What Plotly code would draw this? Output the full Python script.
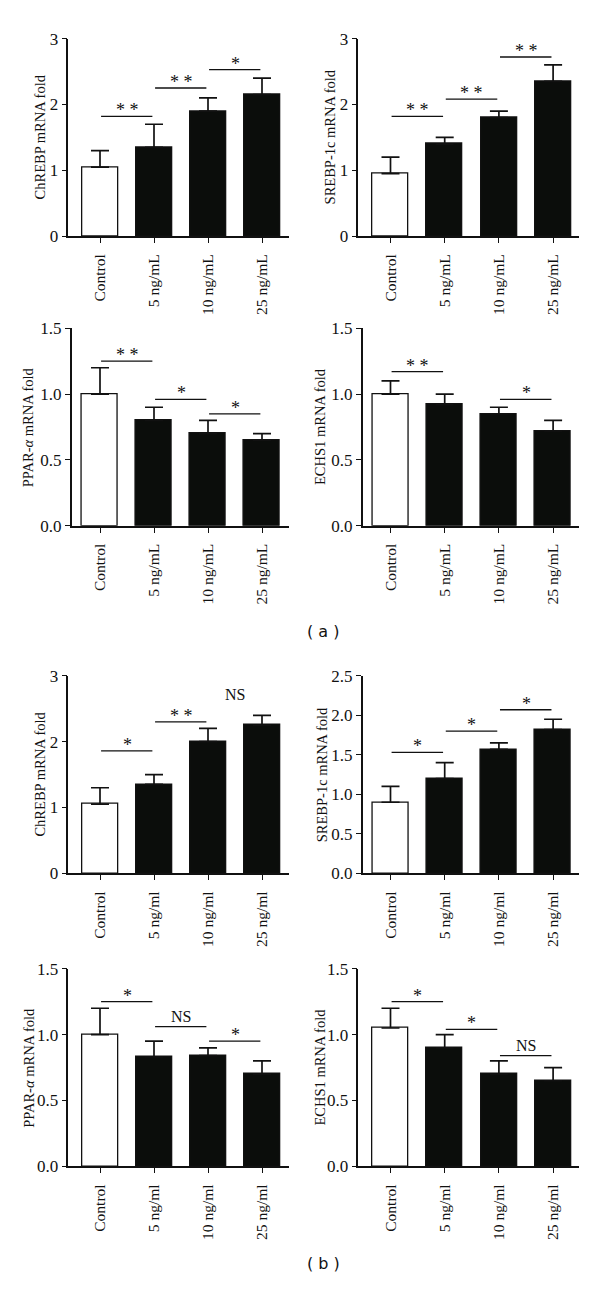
import plotly.graph_objects as go

# ---------------- data ----------------
categories_a = ["Control", "5 ng/mL", "10 ng/mL", "25 ng/mL"]
categories_b = ["Control", "5 ng/ml", "10 ng/ml", "25 ng/ml"]

chrebp_a_mean = [1.05, 1.35, 1.90, 2.15]
chrebp_a_sd = [0.25, 0.35, 0.20, 0.25]
srebp_a_mean = [0.95, 1.40, 1.80, 2.35]
srebp_a_sd = [0.25, 0.10, 0.10, 0.25]
ppar_a_mean = [1.00, 0.80, 0.70, 0.65]
ppar_a_sd = [0.20, 0.10, 0.10, 0.05]
echs1_a_mean = [1.00, 0.92, 0.85, 0.72]
echs1_a_sd = [0.10, 0.08, 0.05, 0.08]

chrebp_b_mean = [1.05, 1.35, 2.00, 2.25]
chrebp_b_sd = [0.25, 0.15, 0.20, 0.15]
srebp_b_mean = [0.90, 1.20, 1.57, 1.82]
srebp_b_sd = [0.20, 0.20, 0.08, 0.13]
ppar_b_mean = [1.00, 0.83, 0.84, 0.70]
ppar_b_sd = [0.20, 0.12, 0.06, 0.10]
echs1_b_mean = [1.05, 0.90, 0.70, 0.65]
echs1_b_sd = [0.15, 0.10, 0.10, 0.10]

# significance marks: (first group index, bracket level, label, draw line)
chrebp_a_sig = [(0, 1.82, "**", True), (1, 2.25, "**", True), (2, 2.53, "*", True)]
srebp_a_sig = [(0, 1.82, "**", True), (1, 2.08, "**", True), (2, 2.72, "**", True)]
ppar_a_sig = [(0, 1.25, "**", True), (1, 0.96, "*", True), (2, 0.85, "*", True)]
echs1_a_sig = [(0, 1.17, "**", True), (2, 0.96, "*", True)]
chrebp_b_sig = [(0, 1.86, "*", True), (1, 2.30, "**", True), (2, 2.71, "NS", False)]
srebp_b_sig = [(0, 1.53, "*", True), (1, 1.80, "*", True), (2, 2.07, "*", True)]
ppar_b_sig = [(0, 1.25, "*", True), (1, 1.06, "NS", True), (2, 0.95, "*", True)]
echs1_b_sig = [(0, 1.25, "*", True), (1, 1.04, "*", True), (2, 0.84, "NS", True)]

y_titles = ["ChREBP mRNA fold", "SREBP-1c mRNA fold", "PPAR-<i>α</i> mRNA fold", "ECHS1 mRNA fold",
            "ChREBP mRNA fold", "SREBP-1c mRNA fold", "PPAR-<i>α</i> mRNA fold", "ECHS1 mRNA fold"]
y_max = [3, 3, 1.5, 1.5, 3, 2.5, 1.5, 1.5]
y_dtick = [1, 1, 0.5, 0.5, 1, 0.5, 0.5, 0.5]
y_fmt = ["d", "d", ".1f", ".1f", "d", ".1f", ".1f", ".1f"]

panels = [
    (categories_a, chrebp_a_mean, chrebp_a_sd, chrebp_a_sig),
    (categories_a, srebp_a_mean, srebp_a_sd, srebp_a_sig),
    (categories_a, ppar_a_mean, ppar_a_sd, ppar_a_sig),
    (categories_a, echs1_a_mean, echs1_a_sd, echs1_a_sig),
    (categories_b, chrebp_b_mean, chrebp_b_sd, chrebp_b_sig),
    (categories_b, srebp_b_mean, srebp_b_sd, srebp_b_sig),
    (categories_b, ppar_b_mean, ppar_b_sd, ppar_b_sig),
    (categories_b, echs1_b_mean, echs1_b_sd, echs1_b_sig),
]

# ---------------- layout geometry (pixels) ----------------
W, H = 600, 1292
xl = [68.3, 358.3, 71.7, 362.7, 68.3, 362.7, 68.3, 358.3]
xr = [289.3, 579.3] * 4
c0 = [100.0, 390.5] * 4
sp = [54.0, 54.2] * 4
ytop = [30, 30, 324, 324, 676.7, 676.7, 974, 974]
ybot = [230.7, 230.7, 524.5, 524.5, 877.3, 877.3, 1174.7, 1174.7]
title_x = [40, 330, 28.3, 320, 40, 321.7, 28.3, 320]

SERIF = "Liberation Serif, Times New Roman, serif"
INK = "#111111"
BAR_DARK = "#0b0d0b"

fig = go.Figure()
layout = {}
shapes = []
annotations = []

for k, (cats, mean, sd, sig) in enumerate(panels):
    suf = "" if k == 0 else str(k + 1)
    xa, ya = "x" + suf, "y" + suf
    pos = list(range(len(cats)))
    fig.add_trace(go.Bar(
        x=pos, y=mean, width=0.667,
        marker=dict(color=["white"] + [BAR_DARK] * (len(cats) - 1),
                    line=dict(color="#111111", width=1.3)),
        error_y=dict(type="data", symmetric=False, array=sd, arrayminus=[0] * len(sd),
                     color="#111111", thickness=1.7, width=9),
        xaxis=xa, yaxis=ya, showlegend=False, hoverinfo="x+y",
    ))
    layout["xaxis" + suf] = dict(
        domain=[xl[k] / W, xr[k] / W], anchor=ya,
        range=[(xl[k] - c0[k]) / sp[k], (xr[k] - c0[k]) / sp[k]],
        tickmode="array", tickvals=pos, ticktext=cats, tickangle=-90,
        ticks="outside", ticklen=5, tickwidth=1.3, tickcolor=INK,
        showline=True, linecolor=INK, linewidth=1.5,
        showgrid=False, zeroline=False, fixedrange=True,
        tickfont=dict(family=SERIF, size=15.5, color=INK),
        ticklabelstandoff=5,
    )
    layout["yaxis" + suf] = dict(
        domain=[1 - ybot[k] / H, 1 - ytop[k] / H], anchor=xa,
        range=[0, y_max[k]], dtick=y_dtick[k], tick0=0, tickformat=y_fmt[k],
        ticks="outside", ticklen=5, tickwidth=1.3, tickcolor=INK,
        showline=True, linecolor=INK, linewidth=1.5,
        showgrid=False, zeroline=False, fixedrange=True,
        tickfont=dict(family=SERIF, size=17, color=INK),
    )
    annotations.append(dict(
        text=y_titles[k], xref="paper", yref="paper",
        x=title_x[k] / W, y=1 - (ytop[k] + ybot[k]) / 2 / H,
        xanchor="center", yanchor="middle", textangle=-90, showarrow=False,
        font=dict(family=SERIF, size=14.5, color=INK),
    ))
    for (i, level, label, line) in sig:
        if line:
            shapes.append(dict(type="line", xref=xa, yref=ya, x0=i + 0.02, x1=i + 0.97,
                               y0=level, y1=level, line=dict(color=INK, width=1.3)))
        is_star = label.startswith("*")
        annotations.append(dict(
            text=" ".join(label) if is_star else label,
            xref=xa, yref=ya, x=i + 0.5, y=level,
            xanchor="center", yanchor="bottom" if line else "middle",
            yshift=-6 if is_star else 0, showarrow=False,
            font=dict(family=SERIF, size=18 if is_star else 16, color=INK),
        ))

for lab, py in [("( a )", 632), ("( b )", 1273)]:
    annotations.append(dict(
        text=lab, xref="paper", yref="paper", x=323 / W, y=1 - py / H,
        xanchor="center", yanchor="middle", showarrow=False,
        font=dict(family="DejaVu Sans, Verdana, sans-serif", size=16, color="#111111"),
    ))

fig.update_layout(
    width=W, height=H, margin=dict(l=0, r=0, t=0, b=0),
    paper_bgcolor="white", plot_bgcolor="white",
    shapes=shapes, annotations=annotations, bargap=0,
    **layout,
)

fig.write_html("out.html", config={"displayModeBar": False},
               post_script="document.body.style.margin='0';document.body.style.overflow='hidden';")
